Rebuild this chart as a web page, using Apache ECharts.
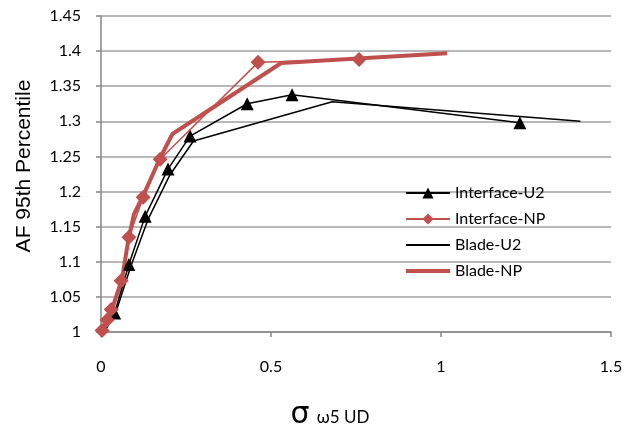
<!DOCTYPE html>
<html>
<head>
<meta charset="utf-8">
<script src="https://cdn.jsdelivr.net/npm/echarts@6/dist/echarts.min.js"></script>
<style>
  html, body { margin: 0; padding: 0; background: #fff; }
  #chart { width: 624px; height: 431px; }
</style>
</head>
<body>
<div id="chart"></div>
<script>
// Axis ticks
var xTicks = [0, 0.5, 1, 1.5];
var yTicks = [1, 1.05, 1.1, 1.15, 1.2, 1.25, 1.3, 1.35, 1.4, 1.45];

// Series values: [sigma, AF 95th percentile]
var interfaceU2 = [
  [0.040, 1.027], [0.082, 1.096], [0.130, 1.165], [0.197, 1.232],
  [0.262, 1.279], [0.430, 1.325], [0.562, 1.338], [1.232, 1.298]
];
var interfaceNP = [
  [0.003, 1.002], [0.018, 1.017], [0.030, 1.032], [0.059, 1.073],
  [0.082, 1.135], [0.124, 1.192], [0.174, 1.246], [0.462, 1.384],
  [0.759, 1.388]
];
var bladeU2 = [
  [0.010, 1.000], [0.045, 1.030], [0.088, 1.094], [0.138, 1.160],
  [0.203, 1.224], [0.272, 1.272], [0.680, 1.328], [1.410, 1.300]
];
var bladeNP = [
  [0.003, 1.000], [0.020, 1.020], [0.035, 1.036], [0.062, 1.076],
  [0.080, 1.130], [0.097, 1.168], [0.126, 1.196], [0.172, 1.246],
  [0.210, 1.282], [0.530, 1.383], [1.018, 1.397]
];

var RED = '#C0504D';
var FONT = 'Lato, "Open Sans", sans-serif';

var chart = echarts.init(document.getElementById('chart'), null, { renderer: 'canvas' });
chart.setOption({
  animation: false,
  backgroundColor: '#ffffff',
  grid: { left: 101, right: 13, top: 16, bottom: 99, containLabel: false, outerBoundsMode: 'none' },
  legend: {
    orient: 'vertical',
    left: 399,
    top: 180,
    itemWidth: 44,
    itemHeight: 14,
    itemGap: 10,
    textStyle: { fontFamily: FONT, fontSize: 16, color: '#000' },
    data: [
      { name: 'Interface-U2', lineStyle: { width: 2 } },
      { name: 'Interface-NP', lineStyle: { width: 2 } },
      { name: 'Blade-U2', itemStyle: { opacity: 0 }, lineStyle: { width: 2 } },
      { name: 'Blade-NP', itemStyle: { opacity: 0 }, lineStyle: { width: 4 } }
    ]
  },
  xAxis: {
    type: 'value',
    min: xTicks[0],
    max: xTicks[xTicks.length - 1],
    interval: 0.5,
    axisLine: { show: true, lineStyle: { color: '#868686', width: 1.5 } },
    axisTick: { show: true, inside: false, length: 5, lineStyle: { color: '#868686', width: 1.5 } },
    axisLabel: { margin: 27, fontFamily: FONT, fontSize: 16, color: '#000',
      formatter: function (v) { return String(+v.toFixed(2)); } },
    splitLine: { show: false },
    name: '{s|σ} {w|ω5 UD}',
    nameLocation: 'middle',
    nameGap: 68,
    nameTextStyle: {
      padding: [0, 52, 0, 0],
      rich: {
        s: { fontFamily: '"DejaVu Sans", sans-serif', fontSize: 30, color: '#000' },
        w: { fontFamily: FONT, fontSize: 17, color: '#000', padding: [6, 0, 0, 4] }
      }
    }
  },
  yAxis: {
    type: 'value',
    min: yTicks[0],
    max: yTicks[yTicks.length - 1],
    interval: 0.05,
    axisLine: { show: true, lineStyle: { color: '#868686', width: 1.5 } },
    axisTick: { show: true, inside: false, length: 5, lineStyle: { color: '#868686', width: 1.5 } },
    axisLabel: { margin: 20, fontFamily: FONT, fontSize: 16, color: '#000',
      formatter: function (v) { return String(+v.toFixed(2)); } },
    splitLine: { show: true, lineStyle: { color: '#a0a0a0', width: 1.5 } },
    name: 'AF 95th Percentile',
    nameLocation: 'middle',
    nameGap: 66,
    nameTextStyle: {
      fontFamily: '"Liberation Sans", Arial, sans-serif', fontSize: 21, color: '#000',
      padding: [0, 0, 0, 16]
    }
  },
  series: [
    {
      name: 'Blade-U2', type: 'line', data: bladeU2,
      symbol: 'none', z: 2,
      lineStyle: { color: '#000', width: 1.5 }, itemStyle: { color: '#000' }
    },
    {
      name: 'Blade-NP', type: 'line', data: bladeNP,
      symbol: 'none', z: 3,
      lineStyle: { color: RED, width: 4 }, itemStyle: { color: RED }
    },
    {
      name: 'Interface-U2', type: 'line', data: interfaceU2,
      symbol: 'triangle', symbolSize: 13, z: 4,
      lineStyle: { color: '#000', width: 1.5 }, itemStyle: { color: '#000' }
    },
    {
      name: 'Interface-NP', type: 'line', data: interfaceNP,
      symbol: 'diamond', symbolSize: 15, z: 5,
      lineStyle: { color: RED, width: 1.5 }, itemStyle: { color: RED }
    }
  ]
});
</script>
</body>
</html>
